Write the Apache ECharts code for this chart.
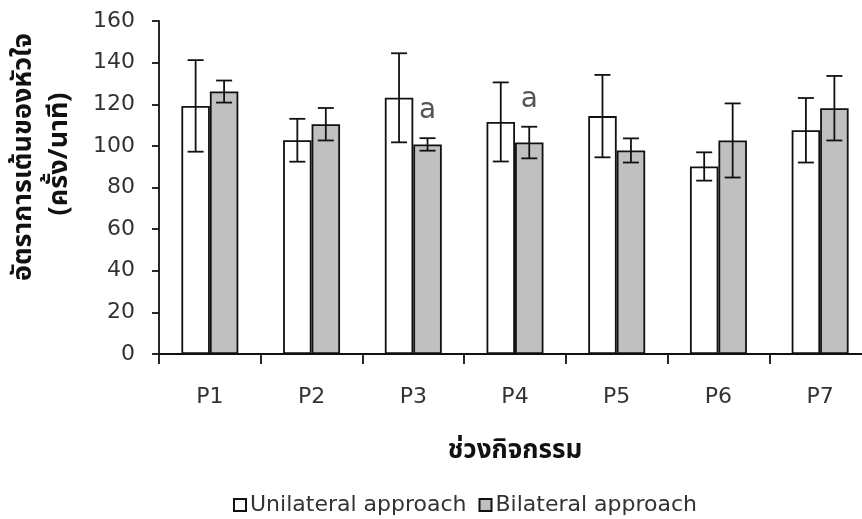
<!DOCTYPE html>
<html><head><meta charset="utf-8">
<script src="https://cdn.jsdelivr.net/npm/echarts@6/dist/echarts.min.js"></script>
<style>html,body{margin:0;padding:0;background:#fff}#c{width:862px;height:519px}</style>
</head><body><div id="c"></div>
<script>
const categories = ['P1', 'P2', 'P3', 'P4', 'P5', 'P6', 'P7'];
const unilateral = [119.2, 102.7, 123.1, 111.5, 114.3, 90.1, 107.5];
const unilateralErr = [22.0, 10.3, 21.4, 19.0, 19.8, 6.8, 15.5];
const bilateral = [126.1, 110.4, 100.7, 101.6, 97.8, 102.6, 118.1];
const bilateralErr = [5.3, 7.8, 3.0, 7.6, 5.8, 17.8, 15.5];
const bilateralMarks = ['', '', 'a', 'a', '', '', ''];
const yTicks = [0, 20, 40, 60, 80, 100, 120, 140, 160];
const seriesNames = ['Unilateral approach', 'Bilateral approach'];
const yTitleLines = ['อัตราการเต้นของหัวใจ', '(ครั้ง/นาที)'];
const xTitle = 'ช่วงกิจกรรม';

const BW = 0.28;
const font = "'DejaVu Sans', 'Liberation Sans', Arial, sans-serif";
const thaiFont = "'Noto Sans Thai', 'Noto Sans', 'DejaVu Sans', sans-serif";

function errSeries(means, errs, marks, offFrac) {
  return {
    type: 'custom',
    z: 5,
    silent: true,
    data: means.map((m, i) => [i, m, errs[i]]),
    renderItem: function (params, api) {
      const i = api.value(0), m = api.value(1), e = api.value(2);
      const band = api.size([1, 0])[0];
      const top = api.coord([i, m + e]);
      const bot = api.coord([i, m - e]);
      const x = top[0] + offFrac * band;
      const cap = 8;
      const st = { stroke: '#111', lineWidth: 1.8 };
      const children = [
        { type: 'line', shape: { x1: x, y1: top[1], x2: x, y2: bot[1] }, style: st },
        { type: 'line', shape: { x1: x - cap, y1: top[1], x2: x + cap, y2: top[1] }, style: st },
        { type: 'line', shape: { x1: x - cap, y1: bot[1], x2: x + cap, y2: bot[1] }, style: st }
      ];
      const mk = marks ? marks[i] : '';
      if (mk) {
        children.push({ type: 'text', style: { text: mk, x: x, y: top[1] - 27, align: 'center', verticalAlign: 'middle', fill: '#555', font: '28px ' + font } });
      }
      return { type: 'group', children: children };
    }
  };
}

const chart = echarts.init(document.getElementById('c'));
chart.setOption({
  animation: false,
  backgroundColor: '#fff',
  grid: { left: 159, right: -9, top: 21, bottom: 165, containLabel: false, outerBoundsMode: 'none' },
  legend: {
    data: seriesNames.map(n => ({ name: n })),
    top: 489, left: 228,
    icon: 'rect', itemWidth: 12, itemHeight: 12, itemGap: 12,
    textStyle: { fontFamily: font, fontSize: 22, color: '#333', padding: [0, 0, 0, -1] }
  },
  graphic: [
    { type: 'text', x: 26, y: 157, rotation: Math.PI / 2,
      style: { text: yTitleLines[0], align: 'center', verticalAlign: 'middle', fill: '#111', font: 'bold 27px ' + thaiFont } },
    { type: 'text', x: 62, y: 154, rotation: Math.PI / 2,
      style: { text: yTitleLines[1], align: 'center', verticalAlign: 'middle', fill: '#111', font: 'bold 27px ' + thaiFont } }
  ],
  xAxis: {
    type: 'category', data: categories,
    axisLine: { lineStyle: { color: '#111', width: 1.8 } },
    axisTick: { show: true, length: 10, lineStyle: { color: '#111', width: 1.8 } },
    axisLabel: { fontFamily: font, fontSize: 22, color: '#333', margin: 32 },
    name: xTitle, nameLocation: 'middle', nameGap: 86,
    nameTextStyle: { fontFamily: thaiFont, fontSize: 26, fontWeight: 'bold', color: '#111' }
  },
  yAxis: {
    type: 'value', min: 0, max: 160, interval: 20,
    splitLine: { show: false },
    axisLine: { show: true, lineStyle: { color: '#111', width: 1.8 } },
    axisTick: { show: true, length: 7, lineStyle: { color: '#111', width: 1.8 } },
    axisLabel: { fontFamily: font, fontSize: 22, color: '#333', margin: 24,
      formatter: v => (yTicks.indexOf(v) >= 0 ? String(v) : '') }
  },
  series: [
    { name: seriesNames[0], type: 'bar', data: unilateral, barWidth: BW * 100 + '%', barGap: '0%',
      itemStyle: { color: '#ffffff', borderColor: '#111', borderWidth: 1.8 } },
    { name: seriesNames[1], type: 'bar', data: bilateral, barWidth: BW * 100 + '%', barGap: '0%',
      itemStyle: { color: '#c0c0c0', borderColor: '#111', borderWidth: 1.8 } },
    errSeries(unilateral, unilateralErr, null, -BW / 2),
    errSeries(bilateral, bilateralErr, bilateralMarks, BW / 2)
  ]
});
</script></body></html>
